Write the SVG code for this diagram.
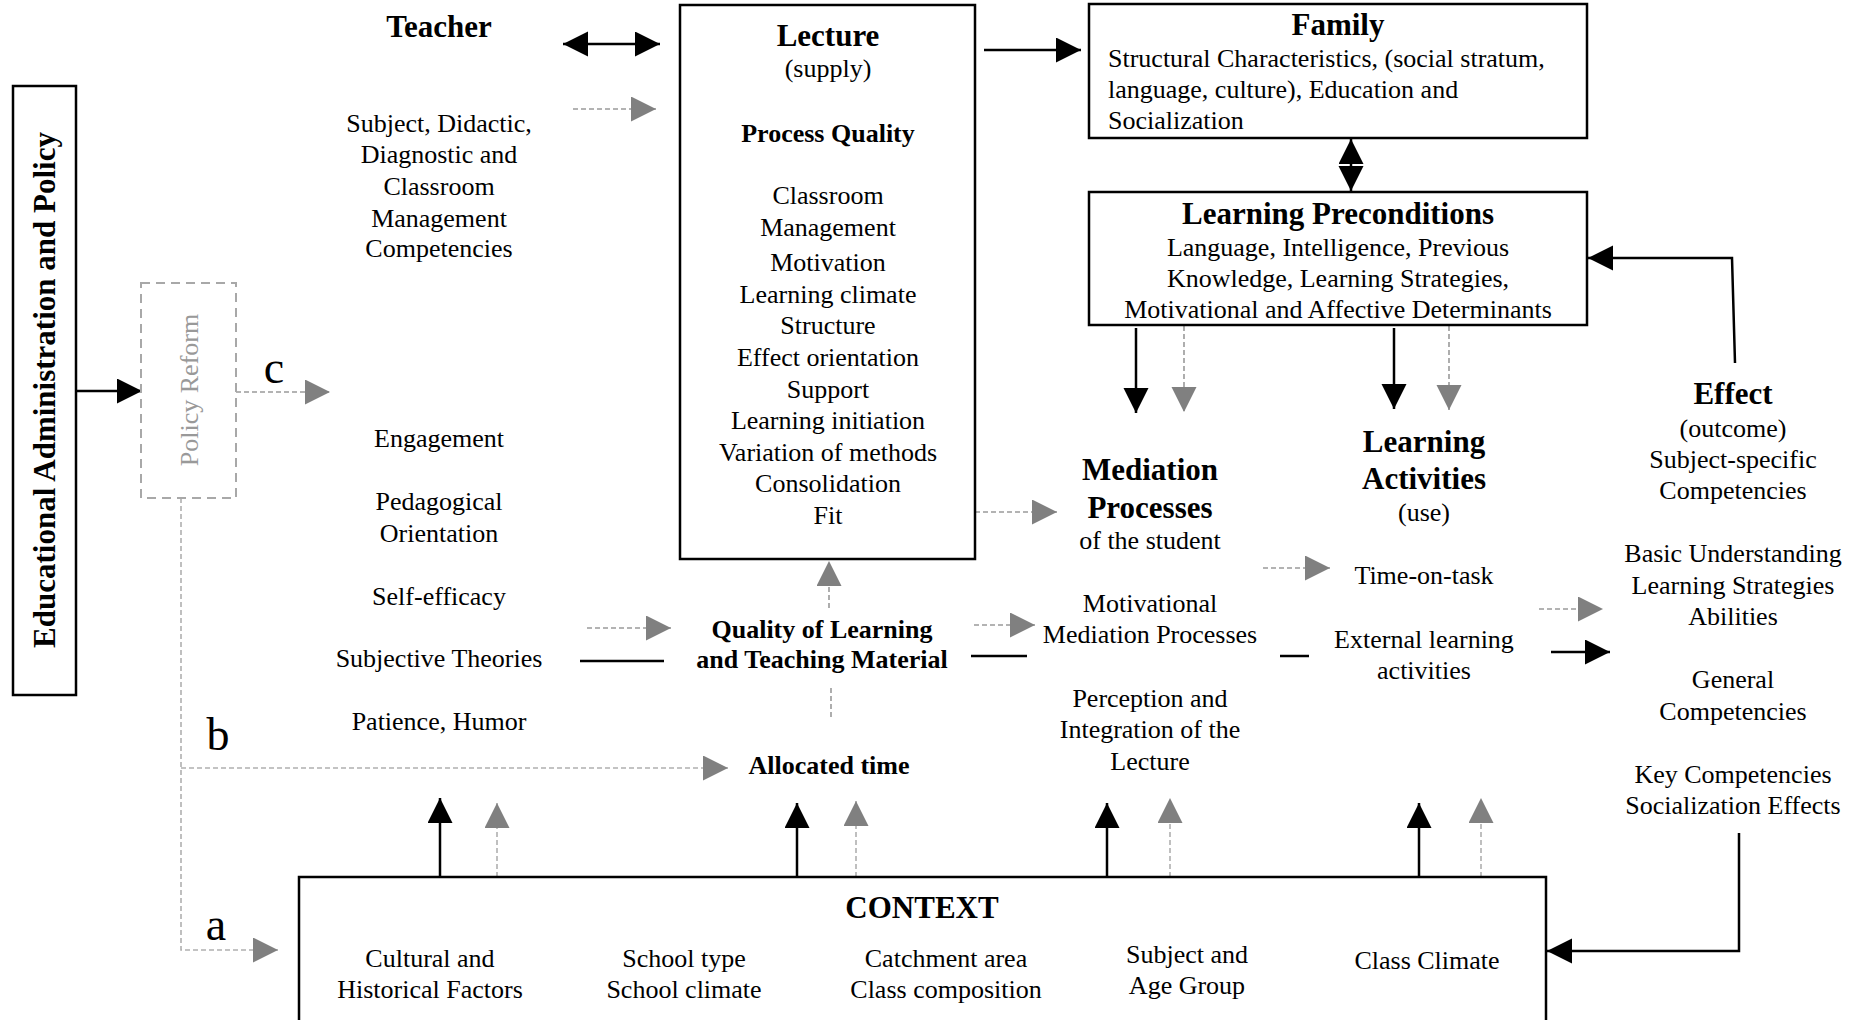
<svg xmlns="http://www.w3.org/2000/svg" width="1859" height="1020" viewBox="0 0 1859 1020">
  <defs>
    <style>
      text { font-family: "Liberation Serif", "Times New Roman", serif; fill: #000; }
      .t { font-size: 26px; text-anchor: middle; }
      .tl { font-size: 26px; text-anchor: start; }
      .h { font-size: 31px; font-weight: bold; text-anchor: middle; }
      .hb { font-size: 26px; font-weight: bold; text-anchor: middle; }
      .lbl { font-size: 46px; text-anchor: middle; }
      .box { fill: #fff; stroke: #000; stroke-width: 2.5; }
      .solid { fill: none; stroke: #000; stroke-width: 2.5; }
      .dash { fill: none; stroke: #9a9a9a; stroke-width: 1.6; stroke-dasharray: 5 3; }
      .dashl { fill: none; stroke: #b0b0b0; stroke-width: 1.6; stroke-dasharray: 5 3; }
    </style>
    <marker id="ab" markerUnits="userSpaceOnUse" markerWidth="26" markerHeight="26" refX="25" refY="12.5" orient="auto-start-reverse">
      <path d="M0,0 L25,12.5 L0,25 Z" fill="#000"/>
    </marker>
    <marker id="ag" markerUnits="userSpaceOnUse" markerWidth="26" markerHeight="26" refX="25" refY="12.5" orient="auto-start-reverse">
      <path d="M0,0 L25,12.5 L0,25 Z" fill="#808080"/>
    </marker>
  </defs>

  <rect width="1859" height="1020" fill="#fff"/>

  <!-- connectors -->
  <g id="connectors">
    <!-- teacher / lecture -->
    <line class="solid" x1="563" y1="44" x2="660" y2="44" marker-start="url(#ab)" marker-end="url(#ab)"/>
    <line class="dash" x1="573" y1="109" x2="656" y2="109" marker-end="url(#ag)"/>
    <!-- administration to policy reform -->
    <line class="solid" x1="76" y1="391" x2="142" y2="391" marker-end="url(#ab)"/>
    <!-- reform paths a, b, c -->
    <line class="dash" x1="236" y1="392" x2="330" y2="392" marker-end="url(#ag)"/>
    <polyline class="dashl" points="181,498 181,950 278,950" marker-end="url(#ag)"/>
    <line class="dashl" x1="181" y1="768" x2="728" y2="768" marker-end="url(#ag)"/>
    <!-- lecture to family -->
    <line class="solid" x1="984" y1="50" x2="1081" y2="50" marker-end="url(#ab)"/>
    <!-- family / preconditions -->
    <line class="solid" x1="1351" y1="139" x2="1351" y2="191" marker-start="url(#ab)" marker-end="url(#ab)"/>
    <!-- preconditions downwards -->
    <line class="solid" x1="1136" y1="328" x2="1136" y2="413" marker-end="url(#ab)"/>
    <line class="dash" x1="1184" y1="326" x2="1184" y2="412" marker-end="url(#ag)"/>
    <line class="solid" x1="1394" y1="328" x2="1394" y2="409" marker-end="url(#ab)"/>
    <line class="dash" x1="1449" y1="326" x2="1449" y2="410" marker-end="url(#ag)"/>
    <!-- effect feedback loops -->
    <polyline class="solid" points="1735,363 1732,258 1588,258" marker-end="url(#ab)"/>
    <polyline class="solid" points="1739,833 1739,951 1547,951" marker-end="url(#ab)"/>
    <!-- lecture to mediation -->
    <line class="dash" x1="975" y1="512" x2="1057" y2="512" marker-end="url(#ag)"/>
    <!-- material / allocated time to lecture -->
    <line class="dash" x1="829" y1="608" x2="829" y2="561" marker-end="url(#ag)"/>
    <line class="dash" x1="831" y1="717" x2="831" y2="685"/>
    <!-- teacher to material -->
    <line class="dash" x1="587" y1="628" x2="671" y2="628" marker-end="url(#ag)"/>
    <line class="solid" x1="580" y1="661" x2="664" y2="661"/>
    <!-- material to mediation -->
    <line class="dash" x1="974" y1="625" x2="1035" y2="625" marker-end="url(#ag)"/>
    <line class="solid" x1="971" y1="656" x2="1027" y2="656"/>
    <!-- mediation to learning activities -->
    <line class="dash" x1="1263" y1="568" x2="1330" y2="568" marker-end="url(#ag)"/>
    <line class="solid" x1="1280" y1="656" x2="1309" y2="656"/>
    <!-- learning activities to effect -->
    <line class="dash" x1="1539" y1="609" x2="1603" y2="609" marker-end="url(#ag)"/>
    <line class="solid" x1="1551" y1="652" x2="1610" y2="652" marker-end="url(#ab)"/>
    <!-- context upwards -->
    <line class="solid" x1="440" y1="877" x2="440" y2="798" marker-end="url(#ab)"/>
    <line class="dashl" x1="497" y1="877" x2="497" y2="803" marker-end="url(#ag)"/>
    <line class="solid" x1="797" y1="877" x2="797" y2="803" marker-end="url(#ab)"/>
    <line class="dashl" x1="856" y1="877" x2="856" y2="801" marker-end="url(#ag)"/>
    <line class="solid" x1="1107" y1="877" x2="1107" y2="803" marker-end="url(#ab)"/>
    <line class="dashl" x1="1170" y1="877" x2="1170" y2="798" marker-end="url(#ag)"/>
    <line class="solid" x1="1419" y1="877" x2="1419" y2="803" marker-end="url(#ab)"/>
    <line class="dashl" x1="1481" y1="877" x2="1481" y2="798" marker-end="url(#ag)"/>
  </g>

  <!-- path labels -->
  <g id="path-labels">
    <text class="lbl" x="274" y="383">c</text>
    <text class="lbl" x="218" y="750">b</text>
    <text class="lbl" x="216" y="940">a</text>
  </g>

  <g id="administration">
    <rect class="box" x="13" y="86" width="63" height="609"/>
    <text class="h" transform="translate(55,390) rotate(-90)">Educational Administration and Policy</text>
  </g>

  <g id="policy-reform">
    <rect x="141" y="283" width="95" height="215" fill="none" stroke="#a8a8a8" stroke-width="2" stroke-dasharray="9 6"/>
    <text class="t" transform="translate(198,390) rotate(-90)" style="fill:#999">Policy Reform</text>
  </g>

  <g id="teacher">
    <text class="h" x="439" y="37">Teacher</text>
    <text class="t" x="439" y="132">Subject, Didactic,</text>
    <text class="t" x="439" y="163">Diagnostic and</text>
    <text class="t" x="439" y="195">Classroom</text>
    <text class="t" x="439" y="227">Management</text>
    <text class="t" x="439" y="257">Competencies</text>
    <text class="t" x="439" y="447">Engagement</text>
    <text class="t" x="439" y="510">Pedagogical</text>
    <text class="t" x="439" y="542">Orientation</text>
    <text class="t" x="439" y="605">Self-efficacy</text>
    <text class="t" x="439" y="667">Subjective Theories</text>
    <text class="t" x="439" y="730">Patience, Humor</text>
  </g>

  <g id="lecture">
    <rect class="box" x="680" y="5" width="295" height="554"/>
    <text class="h" x="828" y="46">Lecture</text>
    <text class="t" x="828" y="77">(supply)</text>
    <text class="hb" x="828" y="142">Process Quality</text>
    <text class="t" x="828" y="204">Classroom</text>
    <text class="t" x="828" y="236">Management</text>
    <text class="t" x="828" y="271">Motivation</text>
    <text class="t" x="828" y="303">Learning climate</text>
    <text class="t" x="828" y="334">Structure</text>
    <text class="t" x="828" y="366">Effect orientation</text>
    <text class="t" x="828" y="398">Support</text>
    <text class="t" x="828" y="429">Learning initiation</text>
    <text class="t" x="828" y="461">Variation of methods</text>
    <text class="t" x="828" y="492">Consolidation</text>
    <text class="t" x="828" y="524">Fit</text>
  </g>

  <g id="family">
    <rect class="box" x="1089" y="4" width="498" height="134"/>
    <text class="h" x="1338" y="35">Family</text>
    <text class="tl" x="1108" y="67">Structural Characteristics, (social stratum,</text>
    <text class="tl" x="1108" y="98">language, culture), Education and</text>
    <text class="tl" x="1108" y="129">Socialization</text>
  </g>

  <g id="learning-preconditions">
    <rect class="box" x="1089" y="192" width="498" height="133"/>
    <text class="h" x="1338" y="224">Learning Preconditions</text>
    <text class="t" x="1338" y="256">Language, Intelligence, Previous</text>
    <text class="t" x="1338" y="287">Knowledge, Learning Strategies,</text>
    <text class="t" x="1338" y="318">Motivational and Affective Determinants</text>
  </g>

  <g id="mediation">
    <text class="h" x="1150" y="480">Mediation</text>
    <text class="h" x="1150" y="518">Processes</text>
    <text class="t" x="1150" y="549">of the student</text>
    <text class="t" x="1150" y="612">Motivational</text>
    <text class="t" x="1150" y="643">Mediation Processes</text>
    <text class="t" x="1150" y="707">Perception and</text>
    <text class="t" x="1150" y="738">Integration of the</text>
    <text class="t" x="1150" y="770">Lecture</text>
  </g>

  <g id="learning-activities">
    <text class="h" x="1424" y="452">Learning</text>
    <text class="h" x="1424" y="489">Activities</text>
    <text class="t" x="1424" y="521">(use)</text>
    <text class="t" x="1424" y="584">Time-on-task</text>
    <text class="t" x="1424" y="648">External learning</text>
    <text class="t" x="1424" y="679">activities</text>
  </g>

  <g id="effect">
    <text class="h" x="1733" y="404">Effect</text>
    <text class="t" x="1733" y="437">(outcome)</text>
    <text class="t" x="1733" y="468">Subject-specific</text>
    <text class="t" x="1733" y="499">Competencies</text>
    <text class="t" x="1733" y="562">Basic Understanding</text>
    <text class="t" x="1733" y="594">Learning Strategies</text>
    <text class="t" x="1733" y="625">Abilities</text>
    <text class="t" x="1733" y="688">General</text>
    <text class="t" x="1733" y="720">Competencies</text>
    <text class="t" x="1733" y="783">Key Competencies</text>
    <text class="t" x="1733" y="814">Socialization Effects</text>
  </g>

  <g id="material">
    <text class="hb" x="822" y="638">Quality of Learning</text>
    <text class="hb" x="822" y="668">and Teaching Material</text>
  </g>

  <g id="allocated-time">
    <text class="hb" x="829" y="774">Allocated time</text>
  </g>

  <g id="context">
    <rect class="box" x="299" y="877" width="1247" height="170"/>
    <text class="h" x="922" y="918">CONTEXT</text>
    <text class="t" x="430" y="967">Cultural and</text>
    <text class="t" x="430" y="998">Historical Factors</text>
    <text class="t" x="684" y="967">School type</text>
    <text class="t" x="684" y="998">School climate</text>
    <text class="t" x="946" y="967">Catchment area</text>
    <text class="t" x="946" y="998">Class composition</text>
    <text class="t" x="1187" y="963">Subject and</text>
    <text class="t" x="1187" y="994">Age Group</text>
    <text class="t" x="1427" y="969">Class Climate</text>
  </g>
</svg>
